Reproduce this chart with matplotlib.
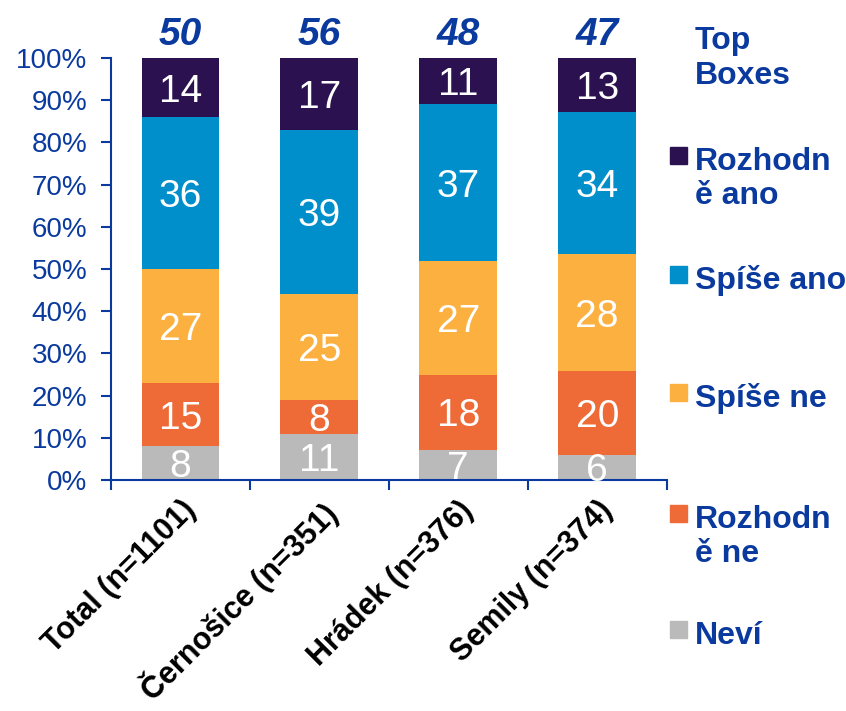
"""
Stacked 100% bar chart: Rozhodně ano / Spíše ano / Spíše ne / Rozhodně ne / Neví
by town, with Top Boxes totals above the bars.
"""

import numpy as np
import matplotlib.pyplot as plt
from matplotlib.patches import Rectangle

plt.rcParams['font.family'] = ['Liberation Sans', 'DejaVu Sans']

# data
categories = ["Total (n=1101)", "Černošice (n=351)", "Hrádek (n=376)", "Semily (n=374)"]
nevi = [8, 11, 7, 6]
rozhodne_ne = [15, 8, 18, 20]
spise_ne = [27, 25, 27, 28]
spise_ano = [36, 39, 37, 34]
rozhodne_ano = [14, 17, 11, 13]
top_boxes = [50, 56, 48, 47]

series_names = ["Neví", "Rozhodn\ně ne", "Spíše ne", "Spíše ano", "Rozhodn\ně ano"]
series_colors = ["#BABABA", "#EE6A37", "#FBB040", "#008FCB", "#2B1150"]

BLUE = "#0A3A9E"


def main() -> None:
    series = np.array([nevi, rozhodne_ne, spise_ne, spise_ano, rozhodne_ano], dtype=float)
    # bars are drawn as shares of 100 (rounded labels can sum to 101)
    shares = series / series.sum(axis=0) * 100

    fig = plt.figure(figsize=(8.46, 7.11), dpi=100)
    ax = fig.add_axes([0.1312, 0.3249, 0.788 - 0.1312, 0.9184 - 0.3249])

    x = np.arange(len(categories))
    bottom = np.zeros(len(categories))
    for vals, shr, col in zip(series, shares, series_colors):
        ax.bar(x, shr, bottom=bottom, width=0.56, color=col, edgecolor="none")
        for xi, v, s, b in zip(x, vals, shr, bottom):
            ax.text(xi, b + s / 2, f"{int(v)}", ha="center", va="center_baseline",
                    color="white", fontsize=28)
        bottom += shr

    # top boxes above bars
    for xi, tb in zip(x, top_boxes):
        ax.text(xi, 106.5, str(tb), ha="center", va="center_baseline", color=BLUE,
                fontsize=28, fontweight="bold", fontstyle="italic", clip_on=False)

    ax.set_xlim(-0.5, len(categories) - 0.5)
    ax.set_ylim(0, 100)
    ax.set_yticks(np.arange(0, 101, 10))
    ax.set_yticklabels([f"{v}%" for v in range(0, 101, 10)])
    ax.tick_params(axis="y", colors=BLUE, labelcolor=BLUE, labelsize=20,
                   length=7, width=1.5, direction="out", pad=10)

    ax.set_xticks(x)
    ax.set_xticklabels(categories, rotation=45, ha="right", va="top",
                       rotation_mode="anchor", fontsize=22, fontweight="bold")
    ax.tick_params(axis="x", which="major", length=0, pad=11)
    ax.set_xticks(np.arange(-0.5, len(categories)), minor=True)
    ax.tick_params(axis="x", which="minor", length=7, width=1.5, color=BLUE,
                   direction="out")

    for side in ["top", "right"]:
        ax.spines[side].set_visible(False)
    for side in ["left", "bottom"]:
        ax.spines[side].set_color(BLUE)
        ax.spines[side].set_linewidth(1.5)

    # legend on the right, drawn by hand to match spacing
    W, H = 846, 711
    line_gap = 34

    def legend_lines(label, ypx):
        for i, line in enumerate(label.split("\n")):
            fig.text(695 / W, 1 - (ypx + i * line_gap) / H, line, ha="left",
                     va="center_baseline", color=BLUE, fontsize=23, fontweight="bold")

    legend_lines("Top\nBoxes", 38)
    legend_rows = [(4, 158), (3, 277), (2, 395), (1, 516), (0, 632)]
    for idx, ypx in legend_rows:
        fig.patches.append(Rectangle((670 / W, 1 - (ypx + 6) / H), 17 / W, 17 / H,
                                     transform=fig.transFigure,
                                     color=series_colors[idx]))
        legend_lines(series_names[idx], ypx)

    fig.savefig("out.png", dpi=100)


if __name__ == "__main__":
    main()
